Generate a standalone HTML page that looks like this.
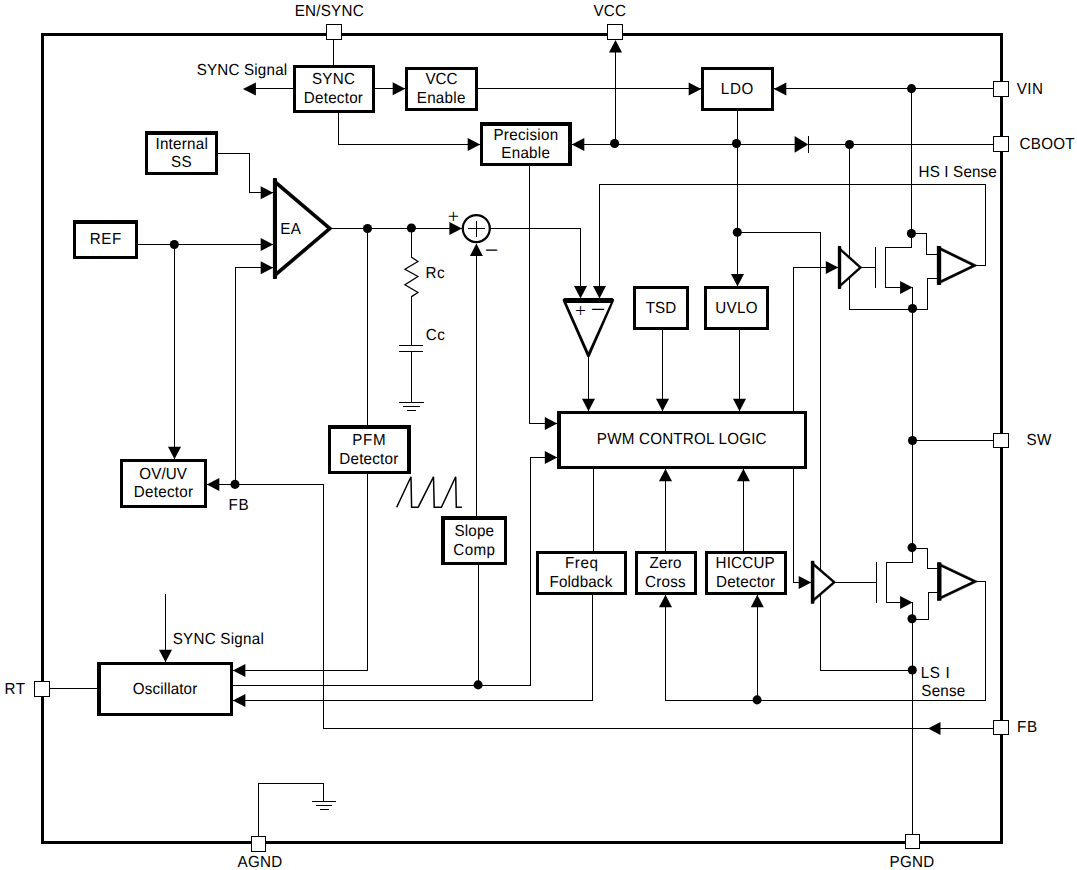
<!DOCTYPE html>
<html><head><meta charset="utf-8"><title>Functional Block Diagram</title>
<style>
html,body{margin:0;padding:0;background:#fff;}
svg{display:block;}
text{font-family:"Liberation Sans",sans-serif;fill:#000;text-rendering:geometricPrecision;}
</style></head>
<body>
<svg width="1077" height="870" viewBox="0 0 1077 870" fill="#000">
<rect x="0" y="0" width="1077" height="870" fill="#fff"/>
<rect x="41" y="33" width="962" height="811"/>
<rect x="44" y="36" width="956" height="805" fill="#fff"/>
<rect x="333" y="40" width="1" height="25"/>
<rect x="250" y="88" width="43" height="1"/>
<rect x="375" y="88" width="30" height="1"/>
<rect x="478" y="88" width="223" height="1"/>
<rect x="338" y="113" width="1" height="32"/>
<rect x="338" y="144" width="142" height="1"/>
<rect x="774" y="88" width="219" height="1"/>
<rect x="911" y="88" width="1" height="160"/>
<rect x="885" y="247" width="27" height="1"/>
<rect x="885" y="247" width="1" height="41"/>
<rect x="885" y="287" width="21" height="1"/>
<rect x="808" y="144" width="185" height="1"/>
<rect x="572" y="144" width="224" height="1"/>
<rect x="615" y="45" width="1" height="100"/>
<rect x="737" y="111" width="1" height="175"/>
<rect x="737" y="232" width="84" height="1"/>
<rect x="820" y="232" width="1" height="439"/>
<rect x="820" y="670" width="93" height="1"/>
<rect x="976" y="265" width="10" height="1"/>
<rect x="985" y="184" width="1" height="82"/>
<rect x="599" y="184" width="387" height="1"/>
<rect x="599" y="184" width="1" height="107"/>
<rect x="490" y="228" width="91" height="1"/>
<rect x="580" y="228" width="1" height="63"/>
<rect x="588" y="356" width="1" height="55"/>
<rect x="662" y="330" width="1" height="81"/>
<rect x="739" y="330" width="1" height="81"/>
<rect x="529" y="166" width="1" height="258"/>
<rect x="529" y="423" width="28" height="1"/>
<rect x="138" y="244" width="135" height="1"/>
<rect x="174" y="244" width="1" height="215"/>
<rect x="218" y="153" width="32" height="1"/>
<rect x="249" y="153" width="1" height="40"/>
<rect x="249" y="192" width="24" height="1"/>
<rect x="235" y="267" width="38" height="1"/>
<rect x="235" y="267" width="1" height="218"/>
<rect x="207" y="484" width="117" height="1"/>
<rect x="323" y="484" width="1" height="245"/>
<rect x="323" y="728" width="670" height="1"/>
<rect x="331" y="228" width="131" height="1"/>
<rect x="367" y="228" width="1" height="443"/>
<rect x="233" y="670" width="135" height="1"/>
<rect x="411" y="228" width="1" height="30"/>
<rect x="411" y="296" width="1" height="50"/>
<rect x="411" y="351" width="1" height="52"/>
<rect x="399" y="345" width="24" height="1"/>
<rect x="399" y="351" width="24" height="1"/>
<rect x="399" y="402" width="25" height="1"/>
<rect x="403" y="406" width="17" height="1"/>
<rect x="407" y="410" width="9" height="1"/>
<rect x="476" y="244" width="1" height="273"/>
<rect x="478" y="565" width="1" height="120"/>
<rect x="233" y="685" width="298" height="1"/>
<rect x="530" y="457" width="1" height="229"/>
<rect x="530" y="457" width="27" height="1"/>
<rect x="593" y="469" width="1" height="82"/>
<rect x="592" y="595" width="1" height="106"/>
<rect x="233" y="700" width="360" height="1"/>
<rect x="665" y="469" width="1" height="82"/>
<rect x="665" y="595" width="1" height="106"/>
<rect x="665" y="700" width="321" height="1"/>
<rect x="985" y="581" width="1" height="120"/>
<rect x="976" y="581" width="10" height="1"/>
<rect x="743" y="469" width="1" height="82"/>
<rect x="757" y="595" width="1" height="106"/>
<rect x="793" y="267" width="45" height="1"/>
<rect x="793" y="267" width="1" height="316"/>
<rect x="793" y="582" width="18" height="1"/>
<rect x="861" y="267" width="15" height="1"/>
<rect x="875" y="247" width="1" height="41"/>
<rect x="911" y="233" width="16" height="1"/>
<rect x="926" y="233" width="1" height="22"/>
<rect x="926" y="254" width="12" height="1"/>
<rect x="849" y="144" width="1" height="166"/>
<rect x="849" y="309" width="79" height="1"/>
<rect x="927" y="278" width="1" height="32"/>
<rect x="927" y="278" width="11" height="1"/>
<rect x="912" y="287" width="1" height="276"/>
<rect x="886" y="562" width="27" height="1"/>
<rect x="886" y="562" width="1" height="41"/>
<rect x="886" y="602" width="20" height="1"/>
<rect x="912" y="602" width="1" height="233"/>
<rect x="912" y="440" width="81" height="1"/>
<rect x="835" y="582" width="42" height="1"/>
<rect x="876" y="562" width="1" height="41"/>
<rect x="912" y="548" width="16" height="1"/>
<rect x="927" y="548" width="1" height="21"/>
<rect x="927" y="568" width="11" height="1"/>
<rect x="912" y="619" width="17" height="1"/>
<rect x="928" y="592" width="1" height="28"/>
<rect x="928" y="592" width="10" height="1"/>
<rect x="165" y="594" width="1" height="68"/>
<rect x="50" y="688" width="47" height="1"/>
<rect x="258" y="783" width="1" height="53"/>
<rect x="258" y="783" width="66" height="1"/>
<rect x="323" y="783" width="1" height="19"/>
<rect x="312" y="801" width="24" height="1"/>
<rect x="316" y="805" width="16" height="1"/>
<rect x="320" y="809" width="9" height="1"/>
<path d="M411.50 257.20 L418.00 261.50 L404.90 269.20 L418.00 276.50 L404.90 284.70 L418.00 292.50 L411.50 296.60" fill="none" stroke="#000" stroke-width="1.25" stroke-linejoin="miter"/>
<path d="M396.70 507.20 L411.00 476.80 L411.60 507.20 L418.20 507.20 L433.50 476.80 L434.20 507.20 L441.40 507.20 L455.70 476.80 L456.30 507.20 L461.90 507.20" fill="none" stroke="#000" stroke-width="1.5" stroke-linejoin="miter"/>
<polygon points="794.6,136.0 794.6,152.8 808.2,144.5"/>
<rect x="808" y="136" width="1" height="17"/>
<polygon points="242.90,88.90 255.90,82.40 255.90,95.40"/>
<polygon points="405.20,88.80 392.70,82.30 392.70,95.30"/>
<polygon points="701.20,88.90 688.70,82.40 688.70,95.40"/>
<polygon points="480.20,144.60 467.70,138.10 467.70,151.10"/>
<polygon points="773.80,88.90 786.30,82.40 786.30,95.40"/>
<polygon points="912.60,287.60 900.10,281.10 900.10,294.10"/>
<polygon points="571.80,144.60 584.30,138.10 584.30,151.10"/>
<polygon points="615.50,40.00 609.00,52.50 622.00,52.50"/>
<polygon points="737.50,286.40 731.00,273.90 744.00,273.90"/>
<polygon points="599.50,298.60 593.00,286.10 606.00,286.10"/>
<polygon points="580.50,298.60 574.00,286.10 587.00,286.10"/>
<polygon points="588.50,411.30 582.00,398.80 595.00,398.80"/>
<polygon points="662.50,411.30 656.00,398.80 669.00,398.80"/>
<polygon points="739.50,411.30 733.00,398.80 746.00,398.80"/>
<polygon points="557.30,423.60 544.80,417.10 544.80,430.10"/>
<polygon points="557.30,457.60 544.80,451.10 544.80,464.10"/>
<polygon points="273.20,244.60 260.70,238.10 260.70,251.10"/>
<polygon points="273.20,192.70 260.70,186.20 260.70,199.20"/>
<polygon points="273.20,267.70 260.70,261.20 260.70,274.20"/>
<polygon points="174.50,459.30 168.00,446.80 181.00,446.80"/>
<polygon points="206.80,484.50 219.30,478.00 219.30,491.00"/>
<polygon points="928.00,728.40 940.50,721.90 940.50,734.90"/>
<polygon points="461.90,228.60 449.40,222.10 449.40,235.10"/>
<polygon points="232.90,670.50 245.40,664.00 245.40,677.00"/>
<polygon points="232.90,700.40 245.40,693.90 245.40,706.90"/>
<polygon points="476.40,243.60 469.90,256.10 482.90,256.10"/>
<polygon points="665.50,468.80 659.00,481.30 672.00,481.30"/>
<polygon points="743.40,468.80 736.90,481.30 749.90,481.30"/>
<polygon points="665.50,594.80 659.00,607.30 672.00,607.30"/>
<polygon points="757.30,594.80 750.80,607.30 763.80,607.30"/>
<polygon points="838.30,267.60 825.80,261.10 825.80,274.10"/>
<polygon points="811.20,582.40 798.70,575.90 798.70,588.90"/>
<polygon points="912.60,602.40 900.10,595.90 900.10,608.90"/>
<polygon points="165.50,662.20 159.00,649.70 172.00,649.70"/>
<circle cx="911.50" cy="88.60" r="4.55"/>
<circle cx="849.50" cy="144.50" r="4.55"/>
<circle cx="736.50" cy="143.50" r="4.55"/>
<circle cx="614.60" cy="143.50" r="4.55"/>
<circle cx="737.30" cy="232.30" r="4.55"/>
<circle cx="174.30" cy="244.50" r="4.55"/>
<circle cx="235.00" cy="484.40" r="4.55"/>
<circle cx="367.50" cy="228.50" r="4.55"/>
<circle cx="411.40" cy="228.00" r="4.55"/>
<circle cx="478.10" cy="684.90" r="4.55"/>
<circle cx="757.10" cy="699.90" r="4.55"/>
<circle cx="911.40" cy="233.50" r="4.55"/>
<circle cx="912.50" cy="308.50" r="4.55"/>
<circle cx="912.50" cy="440.50" r="4.55"/>
<circle cx="912.00" cy="547.60" r="4.55"/>
<circle cx="912.00" cy="618.80" r="4.55"/>
<circle cx="912.30" cy="670.00" r="4.55"/>
<polygon points="273.30,178.30 273.30,278.70 332.30,228.50" stroke="#000" stroke-width="0.5" stroke-linejoin="round"/>
<rect x="273.20" y="178.10" width="3.80" height="100.80" rx="0.9"/>
<polygon points="277.00,185.91 277.00,271.09 327.05,228.50" fill="#fff"/>
<polygon points="838.20,246.20 838.20,288.80 862.00,267.50" stroke="#000" stroke-width="0.5" stroke-linejoin="round"/>
<rect x="838.10" y="246.00" width="3.10" height="43.00" rx="0.9"/>
<polygon points="841.20,251.84 841.20,283.16 858.70,267.50" fill="#fff"/>
<polygon points="937.20,246.10 937.20,284.70 977.20,265.40" stroke="#000" stroke-width="0.5" stroke-linejoin="round"/>
<rect x="937.10" y="245.90" width="4.10" height="39.00" rx="0.9"/>
<polygon points="941.20,250.81 941.20,279.99 971.45,265.40" fill="#fff"/>
<polygon points="811.20,561.00 811.20,603.50 835.80,582.25" stroke="#000" stroke-width="0.5" stroke-linejoin="round"/>
<rect x="811.10" y="560.80" width="3.30" height="42.90" rx="0.9"/>
<polygon points="814.40,566.67 814.40,597.83 832.43,582.25" fill="#fff"/>
<polygon points="937.50,562.40 937.50,600.60 977.80,581.50" stroke="#000" stroke-width="0.5" stroke-linejoin="round"/>
<rect x="937.40" y="562.20" width="4.10" height="38.60" rx="0.9"/>
<polygon points="941.50,567.06 941.50,595.94 971.96,581.50" fill="#fff"/>
<polygon points="564.5,297.9 612.5,297.9 613.9,299.3 613.9,301.0 589.6,356.7 588.4,357.4 587.3,356.7 562.8,301.0 562.8,299.3"/>
<polygon points="566.6,302.9 610.6,302.9 588.4,352.0" fill="#fff"/>
<circle cx="476.3" cy="228.6" r="13.5" fill="#fff" stroke="#000" stroke-width="2.2"/>
<rect x="468" y="228" width="17" height="1"/>
<rect x="476" y="221" width="1" height="16"/>
<rect x="293" y="65" width="82" height="48"/>
<rect x="296" y="68" width="76" height="42" fill="#fff"/>
<rect x="405" y="67" width="73" height="44"/>
<rect x="408" y="70" width="67" height="38" fill="#fff"/>
<rect x="701" y="67" width="73" height="44"/>
<rect x="704" y="70" width="67" height="38" fill="#fff"/>
<rect x="480" y="122" width="92" height="44"/>
<rect x="483" y="126" width="85" height="37" fill="#fff"/>
<rect x="145" y="131" width="73" height="44"/>
<rect x="148" y="135" width="67" height="37" fill="#fff"/>
<rect x="73" y="220" width="65" height="39"/>
<rect x="76" y="224" width="59" height="32" fill="#fff"/>
<rect x="633" y="286" width="56" height="44"/>
<rect x="636" y="289" width="50" height="38" fill="#fff"/>
<rect x="704" y="286" width="65" height="44"/>
<rect x="707" y="289" width="59" height="38" fill="#fff"/>
<rect x="557" y="411" width="250" height="58"/>
<rect x="561" y="414" width="243" height="52" fill="#fff"/>
<rect x="328" y="425" width="83" height="49"/>
<rect x="331" y="429" width="76" height="42" fill="#fff"/>
<rect x="120" y="459" width="87" height="49"/>
<rect x="123" y="462" width="81" height="43" fill="#fff"/>
<rect x="441" y="516" width="66" height="49"/>
<rect x="445" y="520" width="59" height="42" fill="#fff"/>
<rect x="536" y="551" width="91" height="44"/>
<rect x="539" y="554" width="85" height="38" fill="#fff"/>
<rect x="635" y="551" width="62" height="44"/>
<rect x="638" y="554" width="56" height="38" fill="#fff"/>
<rect x="705" y="551" width="82" height="44"/>
<rect x="708" y="554" width="76" height="38" fill="#fff"/>
<rect x="97" y="662" width="136" height="54"/>
<rect x="101" y="665" width="129" height="48" fill="#fff"/>
<rect x="326" y="24" width="16" height="16"/>
<rect x="327" y="25" width="14" height="14" fill="#fff"/>
<rect x="607" y="24" width="16" height="16"/>
<rect x="608" y="25" width="14" height="14" fill="#fff"/>
<rect x="993" y="81" width="16" height="16"/>
<rect x="994" y="82" width="14" height="14" fill="#fff"/>
<rect x="993" y="136" width="16" height="16"/>
<rect x="994" y="137" width="14" height="14" fill="#fff"/>
<rect x="993" y="433" width="16" height="15"/>
<rect x="994" y="434" width="14" height="13" fill="#fff"/>
<rect x="993" y="720" width="16" height="15"/>
<rect x="994" y="721" width="14" height="13" fill="#fff"/>
<rect x="34" y="681" width="16" height="16"/>
<rect x="35" y="682" width="14" height="14" fill="#fff"/>
<rect x="251" y="836" width="15" height="16"/>
<rect x="252" y="837" width="13" height="14" fill="#fff"/>
<rect x="905" y="834" width="15" height="15"/>
<rect x="906" y="835" width="13" height="13" fill="#fff"/>
<text transform="translate(294.65 16) scale(1 1.052)" font-size="15.2" letter-spacing="0.243">EN/SYNC</text>
<text transform="translate(593.53 16) scale(1 1.052)" font-size="15.2" letter-spacing="0.177">VCC</text>
<text transform="translate(1016.63 94) scale(1 1.052)" font-size="15.2" letter-spacing="0.484">VIN</text>
<text transform="translate(1019.53 149) scale(1 1.052)" font-size="15.2" letter-spacing="0.269">CBOOT</text>
<text transform="translate(918.55 177) scale(1 1.052)" font-size="15.2" letter-spacing="0.160">HS I Sense</text>
<text transform="translate(1026.61 445) scale(1 1.052)" font-size="15.2" letter-spacing="0.257">SW</text>
<text transform="translate(1017.02 732) scale(1 1.052)" font-size="15.2" letter-spacing="0.600">FB</text>
<text transform="translate(920.81 678) scale(1 1.052)" font-size="15.2" letter-spacing="0.600">LS I</text>
<text transform="translate(921.31 696) scale(1 1.052)" font-size="15.2" letter-spacing="0.217">Sense</text>
<text transform="translate(889.45 867) scale(1 1.052)" font-size="15.2" letter-spacing="0.320">PGND</text>
<text transform="translate(237.47 867) scale(1 1.052)" font-size="15.2" letter-spacing="0.281">AGND</text>
<text transform="translate(4.57 694) scale(1 1.052)" font-size="15.2" letter-spacing="0.600">RT</text>
<text transform="translate(196.66 75) scale(1 1.052)" font-size="15.2" letter-spacing="0.185">SYNC Signal</text>
<text transform="translate(172.71 644) scale(1 1.052)" font-size="15.2" letter-spacing="0.245">SYNC Signal</text>
<text transform="translate(228.62 510) scale(1 1.052)" font-size="15.2" letter-spacing="0.600">FB</text>
<text transform="translate(280.15 234) scale(1 1.052)" font-size="15.2" letter-spacing="0.500">EA</text>
<text transform="translate(425.44 278) scale(1 1.052)" font-size="15.2" letter-spacing="0.600">Rc</text>
<text transform="translate(425.78 340) scale(1 1.052)" font-size="15.2" letter-spacing="0.600">Cc</text>
<text transform="translate(311.91 84) scale(1 1.052)" font-size="15.2" letter-spacing="0.246">SYNC</text>
<text transform="translate(303.75 103) scale(1 1.052)" font-size="15.2" letter-spacing="0.251">Detector</text>
<text transform="translate(425.43 84) scale(1 1.052)" font-size="15.2" letter-spacing="-0.073">VCC</text>
<text transform="translate(416.75 103) scale(1 1.052)" font-size="15.2" letter-spacing="0.259">Enable</text>
<text transform="translate(720.86 94) scale(1 1.052)" font-size="15.2" letter-spacing="0.600">LDO</text>
<text transform="translate(493.45 140) scale(1 1.052)" font-size="15.2" letter-spacing="0.277">Precision</text>
<text transform="translate(501.25 158) scale(1 1.052)" font-size="15.2" letter-spacing="0.279">Enable</text>
<text transform="translate(155.40 149) scale(1 1.052)" font-size="15.2" letter-spacing="0.260">Internal</text>
<text transform="translate(171.11 167) scale(1 1.052)" font-size="15.2" letter-spacing="0.361">SS</text>
<text transform="translate(89.65 244) scale(1 1.052)" font-size="15.2" letter-spacing="0.578">REF</text>
<text transform="translate(645.86 313) scale(1 1.052)" font-size="15.2" letter-spacing="-0.066">TSD</text>
<text transform="translate(715.33 313) scale(1 1.052)" font-size="15.2" letter-spacing="0.303">UVLO</text>
<text transform="translate(596.85 444) scale(1 1.052)" font-size="15.2" letter-spacing="0.201">PWM CONTROL LOGIC</text>
<text transform="translate(352.31 445) scale(1 1.052)" font-size="15.2" letter-spacing="0.600">PFM</text>
<text transform="translate(339.35 464) scale(1 1.052)" font-size="15.2" letter-spacing="0.208">Detector</text>
<text transform="translate(139.28 479) scale(1 1.052)" font-size="15.2" letter-spacing="0.097">OV/UV</text>
<text transform="translate(133.65 497) scale(1 1.052)" font-size="15.2" letter-spacing="0.293">Detector</text>
<text transform="translate(454.51 536) scale(1 1.052)" font-size="15.2" letter-spacing="0.172">Slope</text>
<text transform="translate(453.29 555) scale(1 1.052)" font-size="15.2" letter-spacing="0.368">Comp</text>
<text transform="translate(565.05 568) scale(1 1.052)" font-size="15.2" letter-spacing="0.522">Freq</text>
<text transform="translate(549.45 587) scale(1 1.052)" font-size="15.2" letter-spacing="0.164">Foldback</text>
<text transform="translate(649.62 568) scale(1 1.052)" font-size="15.2" letter-spacing="0.222">Zero</text>
<text transform="translate(645.03 587) scale(1 1.052)" font-size="15.2" letter-spacing="0.232">Cross</text>
<text transform="translate(715.45 568) scale(1 1.052)" font-size="15.2" letter-spacing="0.216">HICCUP</text>
<text transform="translate(715.95 587) scale(1 1.052)" font-size="15.2" letter-spacing="0.236">Detector</text>
<text transform="translate(132.78 694) scale(1 1.052)" font-size="15.2" letter-spacing="0.125">Oscillator</text>
<text x="453.50" y="222.64" text-anchor="middle" font-size="20" style="font-family:'Liberation Serif',serif">+</text>
<text x="491.55" y="258.44" text-anchor="middle" font-size="23.9" style="font-family:'Liberation Serif',serif">−</text>
<text x="580.40" y="316.84" text-anchor="middle" font-size="19.4" style="font-family:'Liberation Serif',serif">+</text>
<text x="598.05" y="317.77" text-anchor="middle" font-size="25.8" style="font-family:'Liberation Serif',serif">−</text>
</svg>
</body></html>
